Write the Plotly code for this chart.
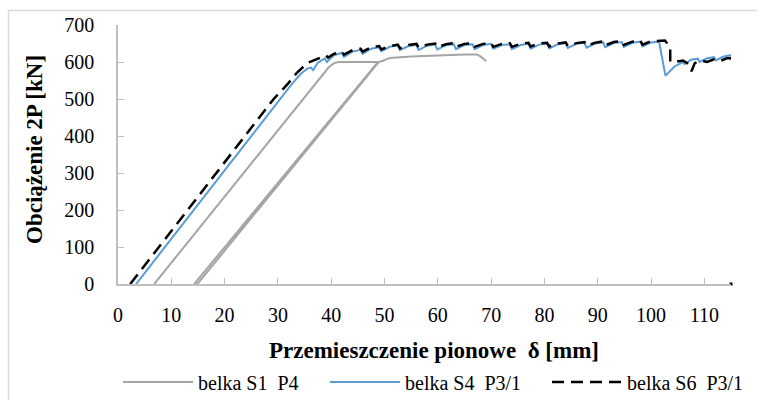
import plotly.graph_objects as go

# ---- data ----
s1_x = [6.8, 38.5, 39.5, 40.5, 41.5, 48.8, 14.3, 14.9, 48.9, 49.8, 51.0, 55.0, 60.0, 65.0, 67.3, 68.0, 69.1]
s1_y = [0, 565, 585, 597, 600, 600, 0, 0, 600, 604, 611, 615, 618, 620, 620, 615, 602]

s4_x = [3.4, 30.4, 32.6, 34.3, 35.5, 36.2, 36.6, 37.5, 38.8, 39.2, 40.5, 42.0, 42.4,
        44.0, 45.5, 45.9, 47.5, 49.0, 49.4, 51.0, 52.5, 52.9, 54.5, 56.0, 56.4, 58.0, 59.5, 59.9,
        61.5, 63.0, 63.4, 65.0, 66.5, 66.9, 68.5, 70.0, 70.4, 72.0, 73.5, 73.9, 75.5, 77.0, 77.4,
        79.0, 80.5, 80.9, 82.5, 84.0, 84.4, 86.0, 87.5, 87.9, 89.5, 91.0, 91.4, 93.0, 94.5, 94.9,
        96.5, 98.0, 98.4, 100.0, 101.5, 102.7, 104.4, 106.0, 106.3, 107.5, 108.8, 109.1, 110.5,
        111.8, 112.1, 113.5, 115.0]
s4_y = [0, 500, 540, 568, 582, 585, 578, 598, 610, 600, 618, 625, 614,
        628, 633, 622, 636, 640, 629, 641, 645, 632, 643, 646, 633, 644, 647, 634,
        645, 648, 635, 646, 648, 635, 646, 649, 636, 646, 648, 635, 646, 649, 636,
        647, 650, 637, 648, 651, 638, 649, 652, 639, 650, 653, 640, 651, 654, 641,
        652, 655, 642, 653, 655, 563, 588, 600, 594, 606, 609, 600, 610,
        613, 604, 614, 619]

s6_x = [2.3, 29.2, 31.8, 33.5, 35.5, 37.5, 39.0, 39.4, 40.5, 42.0, 42.4,
        44.0, 45.5, 45.9, 47.5, 49.0, 49.4, 51.0, 52.5, 52.9, 54.5, 56.0, 56.4, 58.0, 59.5, 59.9,
        61.5, 63.0, 63.4, 65.0, 66.5, 66.9, 68.5, 70.0, 70.4, 72.0, 73.5, 73.9, 75.5, 77.0, 77.4,
        79.0, 80.5, 80.9, 82.5, 84.0, 84.4, 86.0, 87.5, 87.9, 89.5, 91.0, 91.4, 93.0, 94.5, 94.9,
        96.5, 98.0, 98.4, 100.0, 102.6, 103.6, 103.6, 104.8, 106.0, 107.0, 107.6, 108.2, 109.5,
        110.5, 111.8, 113.0, 114.2, 115.0, 115.0]
s6_y = [0, 500, 540, 570, 597, 610, 618, 612, 622, 628, 620,
        632, 636, 628, 640, 643, 634, 643, 647, 637, 646, 649, 639, 647, 650, 640,
        648, 651, 641, 649, 651, 641, 649, 651, 641, 649, 651, 641, 649, 652, 642,
        650, 652, 642, 650, 653, 643, 651, 654, 644, 652, 656, 645, 654, 657, 646,
        655, 658, 647, 656, 658, 640, 601, 601, 604, 595, 575, 597, 604,
        600, 607, 603, 610, 611, 599]

end_mark_x = [115]
end_mark_y = [0]

names = ["belka S1\u00a0 P4", "belka S4\u00a0 P3/1", "belka S6\u00a0 P3/1"]
x_ticks = list(range(0, 111, 10))
y_ticks = list(range(0, 701, 100))

# ---- layout geometry ----
W, H = 757, 400
L, R, T, B = 118, 26, 25, 116
PW, PH = W - L - R, H - T - B

def px_x(p):
    return (p - L) / PW

def px_y(p):
    return (H - B - p) / PH

FONT = "Liberation Serif"
AX = "#BFBFBF"
TICK_SIZE = 20
TITLE_SIZE = 23
LEG_SIZE = 20

fig = go.Figure()
fig.add_trace(go.Scatter(x=s1_x, y=s1_y, mode="lines", name=names[0], legend="legend",
                         line=dict(color="#A5A5A5", width=2)))
fig.add_trace(go.Scatter(x=s4_x, y=s4_y, mode="lines", name=names[1], legend="legend2",
                         line=dict(color="#5B9BD5", width=2)))
fig.add_trace(go.Scatter(x=s6_x, y=s6_y, mode="lines", name=names[2], legend="legend3",
                         line=dict(color="#000000", width=2.5, dash="12px,7px")))
fig.add_trace(go.Scatter(x=end_mark_x, y=end_mark_y, mode="markers", showlegend=False,
                         marker=dict(symbol="square", size=3, color="#000000"),
                         cliponaxis=False, hoverinfo="skip"))

def leg(x_px):
    return dict(orientation="h", x=px_x(x_px), xanchor="left", y=px_y(382), yanchor="middle",
                font=dict(family=FONT, size=LEG_SIZE, color="#000000"),
                itemwidth=70, bgcolor="rgba(0,0,0,0)", borderwidth=0)

fig.update_layout(
    width=W, height=H,
    margin=dict(l=L, r=R, t=T, b=B, pad=0, autoexpand=False),
    paper_bgcolor="white", plot_bgcolor="white",
    font=dict(family=FONT, size=TICK_SIZE, color="#000000"),
    showlegend=True,
    legend=leg(118), legend2=leg(325), legend3=leg(547),
    xaxis=dict(range=[0, 115], tickvals=x_ticks, ticks="inside", ticklen=6, tickcolor=AX,
               tickwidth=1.3, showline=True, linecolor=AX, linewidth=1.5, showgrid=False,
               zeroline=False, tickfont=dict(family=FONT, size=TICK_SIZE), ticklabelstandoff=12),
    yaxis=dict(range=[0, 700], tickvals=y_ticks, ticks="inside", ticklen=6, tickcolor=AX,
               tickwidth=1.3, showline=True, linecolor=AX, linewidth=1.5, showgrid=False,
               zeroline=False, tickfont=dict(family=FONT, size=TICK_SIZE), ticklabelstandoff=18),
    annotations=[
        dict(text="<b>Przemieszczenie pionowe\u00a0 δ [mm]</b>", xref="paper", yref="paper",
             x=px_x(434), y=px_y(350), xanchor="center", yanchor="middle", showarrow=False,
             font=dict(family=FONT, size=TITLE_SIZE, color="#000000")),
        dict(text="<b>Obciążenie 2P [kN]</b>", xref="paper", yref="paper",
             x=px_x(34), y=px_y(150), xanchor="center", yanchor="middle", showarrow=False,
             textangle=-90, font=dict(family=FONT, size=TITLE_SIZE, color="#000000")),
    ],
    shapes=[dict(type="rect", xref="paper", yref="paper", layer="below",
                 x0=px_x(8.5), x1=px_x(W + 20), y0=px_y(H + 20), y1=px_y(10.5),
                 line=dict(color="#D9D9D9", width=1.5), fillcolor="rgba(0,0,0,0)")],
)

fig.write_html("out.html")
